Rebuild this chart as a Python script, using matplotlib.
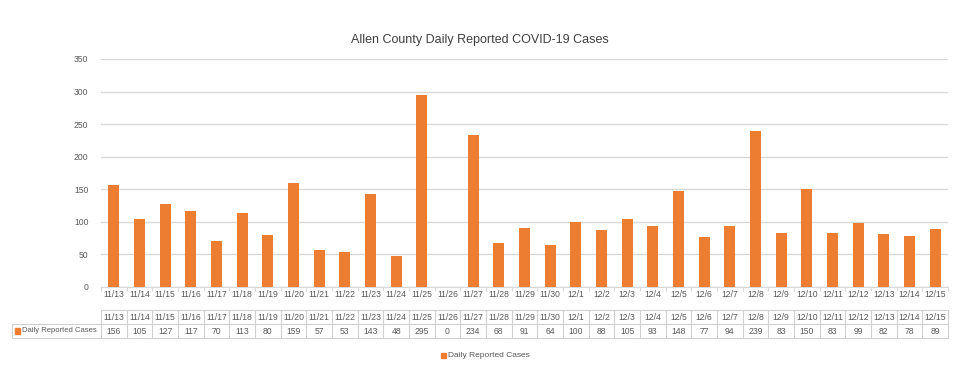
import numpy as np
import matplotlib.pyplot as plt
from matplotlib.patches import Rectangle

plt.rcParams['font.family'] = ['Liberation Sans', 'DejaVu Sans']

dates = ['11/13', '11/14', '11/15', '11/16', '11/17', '11/18', '11/19', '11/20', '11/21',
         '11/22', '11/23', '11/24', '11/25', '11/26', '11/27', '11/28', '11/29', '11/30',
         '12/1', '12/2', '12/3', '12/4', '12/5', '12/6', '12/7', '12/8', '12/9', '12/10',
         '12/11', '12/12', '12/13', '12/14', '12/15']
cases = [156, 105, 127, 117, 70, 113, 80, 159, 57, 53, 143, 48, 295, 0, 234,
         68, 91, 64, 100, 88, 105, 93, 148, 77, 94, 239, 83, 150, 83, 99, 82, 78, 89]
series_name = 'Daily Reported Cases'

orange = '#ED7D31'
txt = '#595959'
grid = '#D9D9D9'

W, H = 960, 379
fig = plt.figure(figsize=(W / 100, H / 100), dpi=100)

def px(x0, y0, x1, y1):
    # pixel box (top-left origin) -> figure fraction
    return [x0 / W, 1 - y1 / H, (x1 - x0) / W, (y1 - y0) / H]

ax = fig.add_axes(px(101, 59, 948, 287))
x = np.arange(len(dates))
ax.bar(x, cases, width=0.43, color=orange, zorder=3)
ax.set_xlim(-0.5, len(dates) - 0.5)
ax.set_ylim(0, 350)
ax.set_yticks(range(0, 351, 50))
ax.yaxis.grid(True, color=grid, lw=1)
ax.tick_params(axis='y', length=0, labelsize=6.2, colors=txt, pad=9)
for s in ['top', 'right', 'left']:
    ax.spines[s].set_visible(False)
ax.spines['bottom'].set_color(grid)
ax.set_xticks(np.arange(len(dates) + 1) - 0.5)
ax.set_xticklabels([])
ax.tick_params(axis='x', length=3, color=grid)
for i, d in enumerate(dates):
    ax.text(i, -11, d, ha='center', va='center', fontsize=6.2, color=txt, clip_on=False)

fig.text(0.5, 1 - 40 / H, 'Allen County Daily Reported COVID-19 Cases',
         ha='center', va='center', fontsize=9, color='#404040')

# data table under the chart
tab = fig.add_axes(px(101, 310, 948, 338))
tab.set_xlim(-0.5, len(dates) - 0.5)
tab.set_ylim(0, 2)
tab.axis('off')
left = -0.5 - (101 - 12) / (847 / len(dates))
lc = '#D0D0D0'
tab.plot([-0.5, len(dates) - 0.5], [2, 2], color=lc, lw=0.8, clip_on=False)
tab.plot([left, len(dates) - 0.5], [1, 1], color=lc, lw=0.8, clip_on=False)
tab.plot([left, len(dates) - 0.5], [0, 0], color=lc, lw=0.8, clip_on=False)
tab.plot([left, left], [0, 1], color=lc, lw=0.8, clip_on=False)
for i in range(len(dates) + 1):
    tab.plot([i - 0.5, i - 0.5], [0, 2], color=lc, lw=0.8, clip_on=False)
for i, d in enumerate(dates):
    tab.text(i, 1.5, d, ha='center', va='center', fontsize=6.2, color=txt)
    tab.text(i, 0.5, str(cases[i]), ha='center', va='center', fontsize=6.2, color=txt)
tab.add_patch(Rectangle((left + 0.12, 0.3), 0.2, 0.4, color=orange, clip_on=False))
tab.text(left + 0.4, 0.5, series_name, ha='left', va='center', fontsize=5.5, color=txt)

# bottom legend
fig.patches.append(Rectangle((441 / W, 1 - 358 / H), 5 / W, 5 / H, color=orange,
                             transform=fig.transFigure))
fig.text(448 / W, 1 - 355.5 / H, series_name, ha='left', va='center', fontsize=6, color=txt)

fig.savefig('out.png', dpi=100, facecolor='w')
